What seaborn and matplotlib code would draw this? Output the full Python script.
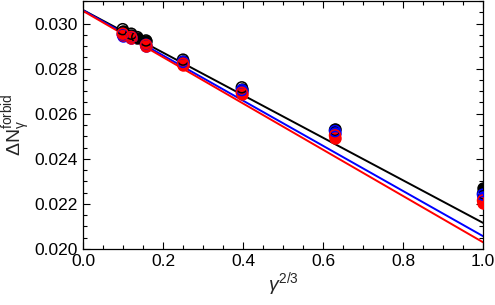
import numpy as np
import pandas as pd
import matplotlib
matplotlib.use("Agg")
import matplotlib.pyplot as plt
import seaborn as sns
from matplotlib.ticker import MultipleLocator, FormatStrFormatter

# ---- data ----
x_black = [0.0992, 0.1205, 0.1357, 0.1575, 0.25, 0.397, 0.63, 1.0]
x_col = [0.0992, 0.1205, 0.1575, 0.25, 0.397, 0.63, 1.0]

black_filled = [0.02965, 0.02950, 0.02938, 0.02922, 0.02836, 0.02710, 0.02533, 0.02272]
black_open = [0.02975, 0.02955, 0.02940, 0.02925, 0.02840, 0.02717, 0.02528, 0.02246]
blue_filled = [0.02946, 0.02935, 0.02902, 0.02826, 0.02700, 0.02515, 0.02230]
blue_open = [0.02952, 0.02940, 0.02906, 0.02830, 0.02705, 0.02523, 0.02241]
red_filled = [0.02950, 0.02935, 0.02900, 0.02818, 0.02688, 0.02494, 0.02202]
red_open = [0.02955, 0.02940, 0.02905, 0.02822, 0.02693, 0.02504, 0.02215]

fit_x = [0.0, 1.0]
fit_black = [0.03060, 0.02116]
fit_blue = [0.03059, 0.02057]
fit_red = [0.03056, 0.02030]

x_ticks = [0.0, 0.2, 0.4, 0.6, 0.8, 1.0]
y_ticks = [0.020, 0.022, 0.024, 0.026, 0.028, 0.030]

# ---- style ----
sns.set_style("ticks")
plt.rcParams['font.family'] = ['Liberation Sans', 'DejaVu Sans']
plt.rcParams['mathtext.fontset'] = 'custom'
plt.rcParams['mathtext.rm'] = 'Liberation Sans'
plt.rcParams['mathtext.it'] = 'Liberation Sans:italic'

fig = plt.figure(figsize=(4.95, 3.05), dpi=100)
ax = fig.add_axes([83/495, 1 - 249/305, 400/495, 248/305])

blue = "#0000ff"
red = "#ff0000"

for fx, fy, c in [(fit_x, fit_black, "black"), (fit_x, fit_blue, blue), (fit_x, fit_red, red)]:
    sns.lineplot(x=fx, y=fy, color=c, lw=1.4, ax=ax, zorder=2)

ms = 62
sns.scatterplot(x=x_black, y=black_filled, color="black", edgecolor="black", s=ms, lw=1.1, ax=ax, zorder=3)
sns.scatterplot(x=x_col, y=blue_filled, color=blue, edgecolor=blue, s=ms, lw=1.1, ax=ax, zorder=3)
sns.scatterplot(x=x_col, y=red_filled, color=red, edgecolor=red, s=ms, lw=1.1, ax=ax, zorder=3)
sns.scatterplot(x=x_black, y=black_open, facecolor="none", edgecolor="black", s=ms, lw=1.1, ax=ax, zorder=4)
sns.scatterplot(x=x_col, y=blue_open, facecolor="none", edgecolor=blue, s=ms, lw=1.1, ax=ax, zorder=4)
sns.scatterplot(x=x_col, y=red_open, facecolor="none", edgecolor=red, s=ms, lw=1.1, ax=ax, zorder=4)

ax.set_xlim(0, 1.0)
ax.set_ylim(0.020, 0.031)
ax.set_xticks(x_ticks)
ax.set_yticks(y_ticks)
ax.xaxis.set_major_formatter(FormatStrFormatter('%.1f'))
ax.yaxis.set_major_formatter(FormatStrFormatter('%.3f'))
ax.xaxis.set_minor_locator(MultipleLocator(0.05))
ax.yaxis.set_minor_locator(MultipleLocator(0.0005))
ax.tick_params(which='both', direction='in', top=True, right=True, colors='black', labelsize=12.5, width=0.8)
ax.tick_params(which='major', length=5)
ax.tick_params(which='minor', length=3)
for s in ax.spines.values():
    s.set_visible(True)
    s.set_color('black')
    s.set_linewidth(0.9)

ax.set_xlabel(r'$\mathit{\gamma}^{\mathregular{2/3}}$', fontsize=14, labelpad=1)
ax.set_ylabel(r'$\mathregular{\Delta N_{\gamma}^{forbid}}$', fontsize=14, labelpad=1)

fig.savefig("out.png", dpi=100)
